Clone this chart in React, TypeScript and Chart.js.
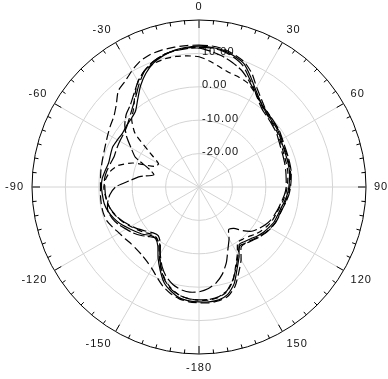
import React, { useEffect, useRef } from "react";
import { Chart, registerables } from "chart.js";

Chart.register(...registerables);

// Angles (degrees, clockwise from top), 5° step
const angles = [
  0, 5, 10, 15, 20, 25, 30, 35, 40, 45, 50, 55, 60, 65, 70, 75, 80, 85,
  90, 95, 100, 105, 110, 115, 120, 125, 130, 135, 140, 145, 150, 155, 160, 165, 170, 175,
  180, 185, 190, 195, 200, 205, 210, 215, 220, 225, 230, 235, 240, 245, 250, 255, 260, 265,
  270, 275, 280, 285, 290, 295, 300, 305, 310, 315, 320, 325, 330, 335, 340, 345, 350, 355,
];

// Angle tick labels (every 30°)
const angleTickAngles = [0, 30, 60, 90, 120, 150, 180, 210, 240, 270, 300, 330];
const angleTickLabels = ["0", "30", "60", "90", "120", "150", "-180", "-150", "-120", "-90", "-60", "-30"];

// Radial tick labels (dB)
const radialTickValues = [10, 0, -10, -20];
const radialMin = -30;
const radialMax = 20;

// Series (dB) at each angle
const series1 = [
  12.2, 12.0, 11.6, 10.6, 9.3, 6.5, 3.8, 1.8, 0.4, -0.3,
  -0.7, -1.0, -1.7, -2.1, -2.3, -2.4, -2.5, -2.8, -3.1, -3.5,
  -4.1, -4.7, -5.0, -5.2, -5.8, -6.4, -7.2, -8.1, -8.7, -9.0,
  -6.0, -3.0, 0.8, 3.3, 4.3, 4.5, 4.4, 4.2, 3.7, 2.3,
  0.5, -2.5, -5.5, -8.5, -9.8, -9.5, -8.0, -6.8, -5.5, -4.0,
  -2.8, -1.8, -1.2, -1.0, -0.8, -0.9, -1.5, -2.0, -1.8, -1.5,
  -1.8, -2.0, -1.6, -1.2, -0.4, 2.0, 5.0, 7.6, 9.6, 10.8,
  11.6, 12.0,
];
const series2 = [
  12.5, 12.4, 12.0, 11.0, 9.8, 7.5, 4.5, 2.4, 0.8, 0.0,
  -0.4, -0.8, -1.4, -1.9, -2.0, -2.2, -2.2, -2.5, -2.8, -3.2,
  -3.8, -4.3, -4.6, -4.8, -5.3, -6.0, -6.8, -7.6, -8.2, -8.0,
  -4.8, -1.8, 1.6, 3.8, 4.6, 4.8, 4.7, 4.5, 4.0, 3.0,
  1.6, -0.2, -1.8, -2.8, -3.4, -3.6, -3.5, -3.0, -2.4, -1.5,
  -0.6, -0.3, -0.3, -0.4, -0.5, -0.4, -0.2, 0.0, 0.3, 0.8,
  1.5, 2.3, 3.2, 5.0, 7.6, 8.6, 10.2, 11.6, 12.3, 12.5,
  12.5, 12.5,
];
const series3 = [
  9.0, 7.8, 6.4, 5.4, 5.0, 4.4, 3.0, 1.5, 0.2, -0.5,
  -1.0, -1.4, -2.0, -2.5, -2.8, -2.9, -3.0, -3.3, -3.6, -4.0,
  -4.6, -5.2, -5.6, -5.9, -6.5, -7.2, -8.0, -9.0, -9.6, -9.8,
  -7.0, -4.0, -0.2, 2.4, 3.6, 4.0, 3.9, 3.6, 3.0, 1.6,
  -0.4, -3.2, -6.2, -9.0, -10.2, -10.0, -8.8, -7.6, -6.4, -5.0,
  -3.8, -2.8, -2.2, -1.8, -1.5, -2.0, -3.0, -5.0, -9.0, -15.5,
  -16.0, -12.0, -5.0, -1.5, 0.5, 3.5, 6.5, 8.5, 9.4, 9.7,
  9.7, 9.4,
];
const series4 = [
  11.6, 10.8, 9.8, 8.6, 7.2, 5.2, 3.2, 1.6, 0.6, 0.1,
  -0.3, -0.6, -1.2, -1.6, -1.8, -1.9, -2.0, -2.3, -2.6, -3.0,
  -3.6, -4.2, -4.5, -4.7, -5.2, -5.8, -6.6, -7.4, -8.0, -8.6,
  -6.6, -3.6, -0.4, 2.2, 3.4, 3.8, 3.8, 3.6, 3.0, 1.8,
  -0.2, -3.0, -6.6, -9.4, -10.0, -9.0, -7.4, -6.0, -4.8, -3.4,
  -2.4, -1.8, -2.2, -3.2, -5.0, -9.0, -12.0, -16.0, -14.0, -9.0,
  -6.5, -3.5, -1.0, 0.8, 2.0, 4.0, 6.5, 8.5, 10.0, 11.0,
  11.4, 11.6,
];
const series5 = [
  11.8, 11.8, 11.3, 10.2, 8.6, 5.8, 3.4, 1.2, -0.2, -0.8,
  -1.3, -1.7, -2.4, -2.9, -3.2, -3.4, -3.6, -3.8, -3.9, -4.3,
  -4.9, -5.4, -5.9, -6.4, -7.2, -8.2, -9.4, -11.5, -13.8, -14.5,
  -12.0, -9.5, -6.0, -3.0, -0.8, 0.6, 1.4, 1.6, 1.2, 0.2,
  -1.4, -3.8, -6.8, -9.8, -11.0, -10.6, -9.4, -8.0, -6.6, -5.2,
  -3.9, -2.9, -2.2, -1.9, -1.8, -1.6, -2.0, -2.6, -3.0, -2.8,
  -2.6, -2.4, -1.8, -0.6, 1.0, 3.0, 5.8, 8.4, 10.0, 11.0,
  11.5, 11.8,
];

const GRID = "#d4d4d4";
const FONT = '11px "Liberation Sans", Arial, sans-serif';

const polarDecor = {
  id: "polarDecor",
  beforeDatasetsDraw(chart: any) {
    const scale = chart.scales.r;
    const ctx = chart.ctx as CanvasRenderingContext2D;
    const R = scale.drawingArea;
    ctx.save();
    // tick marks on the outer circle
    ctx.strokeStyle = "#000";
    ctx.lineWidth = 1;
    for (let i = 0; i < angles.length; i++) {
      const major = angles[i] % 30 === 0;
      const a = scale.getPointPosition(i, R);
      const b = scale.getPointPosition(i, R - (major ? 8 : 4));
      ctx.beginPath();
      ctx.moveTo(a.x, a.y);
      ctx.lineTo(b.x, b.y);
      ctx.stroke();
    }
    // angle labels
    ctx.font = FONT;
    (ctx as any).letterSpacing = "1px";
    ctx.fillStyle = "#111";
    for (let k = 0; k < angleTickAngles.length; k++) {
      const deg = angleTickAngles[k];
      const i = angles.indexOf(deg);
      const p = scale.getPointPosition(i, R + 8);
      let align: CanvasTextAlign = "center";
      if (deg === 0 || deg === 180) align = "center";
      else if (deg < 180) align = "left";
      else align = "right";
      let base: CanvasTextBaseline = "top";
      if (deg === 90 || deg === 270) base = "middle";
      else if (deg > 270 || deg < 90) base = "bottom";
      else base = "top";
      ctx.textAlign = align;
      ctx.textBaseline = base;
      ctx.fillText(angleTickLabels[k], p.x, p.y);
    }
    // radial tick labels along the 0° spoke
    ctx.textAlign = "left";
    ctx.textBaseline = "alphabetic";
    for (const v of radialTickValues) {
      const d = scale.getDistanceFromCenterForValue(v);
      ctx.fillText(v.toFixed(2), scale.xCenter + 3, scale.yCenter - d + 1.5);
    }
    ctx.restore();
  },
};

export default function App() {
  const ref = useRef<HTMLCanvasElement | null>(null);
  useEffect(() => {
    if (!ref.current) return;
    const mk = (data: number[], dash: number[], w: number) => ({
      data,
      borderColor: "#000",
      borderWidth: w,
      borderDash: dash,
      pointRadius: 0,
      fill: false,
    });
    const chart = new Chart(ref.current, {
      type: "radar",
      data: {
        labels: angles.map(String),
        datasets: [
          mk(series1, [], 1.2),
          mk(series2, [9, 4], 1.2),
          mk(series3, [6, 4], 1.2),
          mk(series4, [12, 3], 1.2),
          mk(series5, [14, 4], 1.2),
        ],
      },
      options: {
        animation: false,
        responsive: true,
        maintainAspectRatio: false,
        layout: { padding: { left: 32, right: 22, top: 20, bottom: 25 } },
        elements: { line: { tension: 0.2 } },
        plugins: { legend: { display: false }, tooltip: { enabled: false } },
        scales: {
          r: {
            min: radialMin,
            max: radialMax,
            startAngle: 0,
            ticks: { display: false, stepSize: 10 },
            pointLabels: { display: false },
            grid: {
              circular: true,
              color: (c: any) => (c.tick && c.tick.value === radialMax ? "#000" : GRID),
              lineWidth: 1,
            },
            angleLines: {
              display: true,
              color: (c: any) => (c.index % 6 === 0 ? GRID : "rgba(0,0,0,0)"),
              lineWidth: 1,
            },
          },
        },
      },
      plugins: [polarDecor],
    });
    return () => chart.destroy();
  }, []);
  return (
    <div style={{ position: "absolute", left: 0, top: 0, width: 388, height: 379, background: "#fff" }}>
      <canvas ref={ref} />
    </div>
  );
}
